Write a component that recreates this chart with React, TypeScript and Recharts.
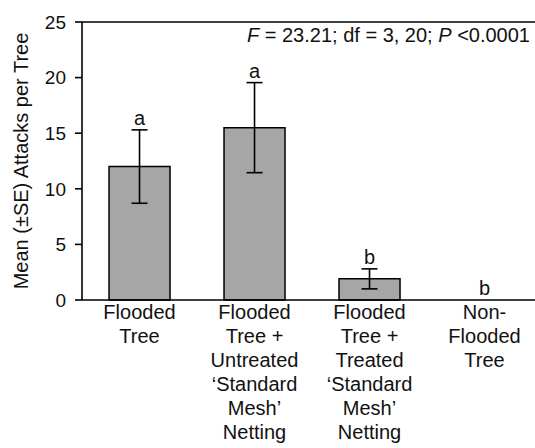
import { ComposedChart, Bar, Line, XAxis, YAxis, ErrorBar, LabelList, ReferenceLine } from "recharts";

const categories = [
  "Flooded\nTree",
  "Flooded\nTree +\nUntreated\n\u2018Standard\nMesh\u2019\nNetting",
  "Flooded\nTree +\nTreated\n\u2018Standard\nMesh\u2019\nNetting",
  "Non-\nFlooded\nTree",
];
const means = [12.0, 15.5, 1.9, 0];
const se = [3.3, 4.05, 0.9, 0];
const letters = ["a", "a", "b", "b"];
const yTicks = [0, 5, 10, 15, 20, 25];
const statText = " = 23.21; df = 3, 20; ";

const data = categories.map((c, i) => ({
  name: c,
  mean: means[i],
  se: se[i],
  top: means[i] + se[i],
  letter: letters[i],
}));

const FONT = "'Liberation Sans', Arial, sans-serif";

function XTick({ x, y, payload }: any) {
  const lines = String(payload.value).split("\n");
  return (
    <text x={x} y={y + 19} textAnchor="middle" fontSize={20} fill="#111" fontFamily={FONT}>
      {lines.map((l, i) => (
        <tspan key={i} x={x} dy={i === 0 ? 0 : 24}>{l}</tspan>
      ))}
    </text>
  );
}

function YTitle({ viewBox }: any) {
  const cx = viewBox.x + 21;
  const cy = viewBox.y + viewBox.height / 2;
  return (
    <text x={cx} y={cy} transform={`rotate(-90 ${cx} ${cy})`} textAnchor="middle" dominantBaseline="central"
      fontSize={20} fill="#111" fontFamily={FONT}>
      Mean (±SE) Attacks per Tree
    </text>
  );
}

function StatLabel({ viewBox }: any) {
  const x = viewBox.x + viewBox.width - 12;
  const y = viewBox.y + 20;
  return (
    <text x={x} y={y} textAnchor="end" fontSize={20} fill="#111" fontFamily={FONT}>
      <tspan fontStyle="italic">F</tspan>
      <tspan>{statText}</tspan>
      <tspan fontStyle="italic">P</tspan>
      <tspan> &lt;0.0001</tspan>
    </text>
  );
}

export default function App() {
  return (
    <div style={{ position: "fixed", left: 0, top: 0, width: 535, height: 448, overflow: "hidden", background: "#fff" }}>
      <ComposedChart width={542} height={448} data={data} margin={{ top: 22, right: 0, left: 0, bottom: 0 }}
        barCategoryGap="23.5%">
        <XAxis dataKey="name" interval={0} height={148} tick={<XTick />} tickLine={false} tickSize={0} tickMargin={0}
          axisLine={{ stroke: "#000", strokeWidth: 1.6 }} />
        <YAxis domain={[0, 25]} ticks={yTicks} width={82} tickSize={7} tickMargin={9}
          tick={{ fontSize: 19, fill: "#111", fontFamily: FONT }}
          tickLine={{ stroke: "#000", strokeWidth: 1.6 }} axisLine={{ stroke: "#000", strokeWidth: 1.6 }}
          label={<YTitle />} />
        <ReferenceLine y={25} stroke="#000" strokeWidth={1.6} label={<StatLabel />} />
        <Bar dataKey="mean" fill="#a6a6a6" stroke="#000" strokeWidth={1.5} isAnimationActive={false}>
          <ErrorBar dataKey="se" width={8} stroke="#000" strokeWidth={1.6} />
        </Bar>
        <Line dataKey="top" stroke="none" dot={false} activeDot={false} legendType="none" isAnimationActive={false}>
          <LabelList dataKey="letter" position="top" offset={5} fontSize={20} fill="#111" fontFamily={FONT} />
        </Line>
      </ComposedChart>
    </div>
  );
}
